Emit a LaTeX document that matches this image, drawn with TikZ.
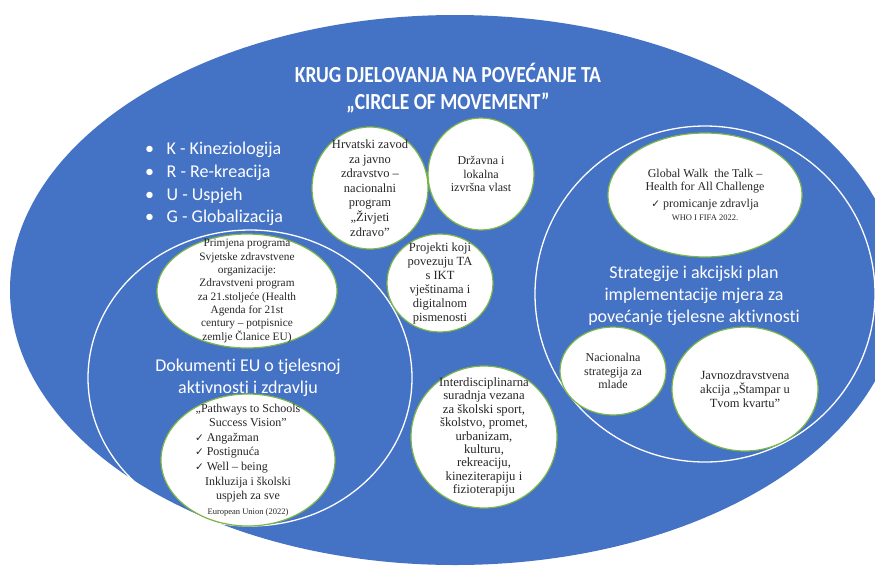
\documentclass[tikz,border=0pt]{standalone}
\usepackage{fontspec}
\setmainfont{Liberation Serif}
\newfontfamily\calibri[Ligatures=NoCommon]{Carlito}
\newfontfamily\symfont{DejaVu Sans}
\usetikzlibrary{shapes.geometric}

\definecolor{circleblue}{HTML}{4472C4}
\definecolor{rimgreen}{HTML}{7DB548}
\newcommand{\chk}{{\symfont\fontsize{10.5}{10}\selectfont ✓}}

\begin{document}
\begin{tikzpicture}[x=1pt, y=-1pt,
  bubble/.style={ellipse, draw=rimgreen, line width=1.2pt, fill=white, inner sep=-30pt, align=center, text=black!85, font=\fontsize{12.5}{14}\selectfont},
  ring/.style={draw=white, line width=1.3pt},
  heading/.style={text=white, inner sep=0pt, align=center, font=\calibri\fontsize{18}{22}\selectfont}
]

  \useasboundingbox (0,0) rectangle (875,566);
  \fill[white] (0,0) rectangle (875,566);
  \clip (0,0) rectangle (875,566);

  % the big circle and the two inner groups
  \fill[circleblue] (455,290) ellipse [x radius=445, y radius=275];
  \draw[ring] (250,378) ellipse [x radius=162, y radius=148];
  \draw[ring] (705,294) ellipse [x radius=170, y radius=168];

  \node[heading, font=\calibri\bfseries\fontsize{23}{27}\selectfont] (title) at (448,88)
    {\scalebox{0.85}[1]{KRUG DJELOVANJA NA POVEĆANJE TA}\\\scalebox{0.85}[1]{„CIRCLE OF MOVEMENT”}};

  \node[heading, align=left, anchor=west, font=\calibri\fontsize{18}{22.6}\selectfont] (krug) at (145,184)
    {\makebox[21.5pt][l]{•}K - Kineziologija\\\makebox[21.5pt][l]{•}R - Re-kreacija\\
     \makebox[21.5pt][l]{•}U - Uspjeh\\\makebox[21.5pt][l]{•}G - Globalizacija};

  \node[heading] (eudocs) at (248,378) {Dokumenti EU o tjelesnoj\\aktivnosti i zdravlju};
  \node[heading] (strategy) at (694,296) {Strategije i akcijski plan\\implementacije mjera za\\povećanje tjelesne aktivnosti};

  \node[bubble, minimum width=116, minimum height=122, font=\fontsize{12.5}{14.6}\selectfont] (hzjz) at (370,188)
    {Hrvatski zavod\\za javno\\zdravstvo –\\nacionalni\\program\\„Živjeti\\zdravo”};
  \node[bubble, minimum width=106, minimum height=112, font=\fontsize{12}{13.5}\selectfont] (vlast) at (481,174)
    {Državna i\\lokalna\\izvršna vlast};
  \node[bubble, minimum width=106, minimum height=98, font=\fontsize{12.5}{14}\selectfont] (ikt) at (440,283)
    {Projekti koji\\povezuju TA\\s IKT\\vještinama i\\digitalnom\\pismenosti};
  \node[bubble, minimum width=180, minimum height=114, font=\fontsize{11.3}{13.3}\selectfont] (who) at (247,291)
    {Primjena programa\\Svjetske zdravstvene\\organizacije:\\Zdravstveni program\\za 21.stoljeće (Health\\Agenda for 21st\\century – potpisnice\\zemlje Članice EU)};
  \node[bubble, minimum width=174, minimum height=132, font=\fontsize{12}{14.6}\selectfont] (pathways) at (248,460)
    {„Pathways to Schools\\Success Vision”\\
     \makebox[106pt][l]{\chk\ Angažman}\\
     \makebox[106pt][l]{\chk\ Postignuća}\\
     \makebox[106pt][l]{\chk\ Well – being}\\
     Inkluzija i školski\\uspjeh za sve\\{\fontsize{8.5}{10}\selectfont European Union (2022)}};
  \node[bubble, minimum width=146, minimum height=142, font=\fontsize{12.7}{13.4}\selectfont] (interdis) at (484,437)
    {Interdisciplinarna\\suradnja vezana\\za školski sport,\\školstvo, promet,\\urbanizam,\\kulturu,\\rekreaciju,\\kineziterapiju i\\fizioterapiju};
  \node[bubble, minimum width=194, minimum height=124, font=\fontsize{12}{13.5}\selectfont] (walk) at (705,195)
    {Global Walk\ \ the Talk –\\Health for All Challenge\\[3pt]
     \chk\ promicanje zdravlja\\{\fontsize{8.5}{14}\selectfont WHO I FIFA 2022.}};
  \node[bubble, minimum width=106, minimum height=88, font=\fontsize{12}{13.5}\selectfont] (mladi) at (613,371)
    {Nacionalna\\strategija za\\mlade};
  \node[bubble, minimum width=146, minimum height=124] (stampar) at (745,389)
    {Javnozdravstvena\\akcija „Štampar u\\Tvom kvartu”};

\end{tikzpicture}
\end{document}
